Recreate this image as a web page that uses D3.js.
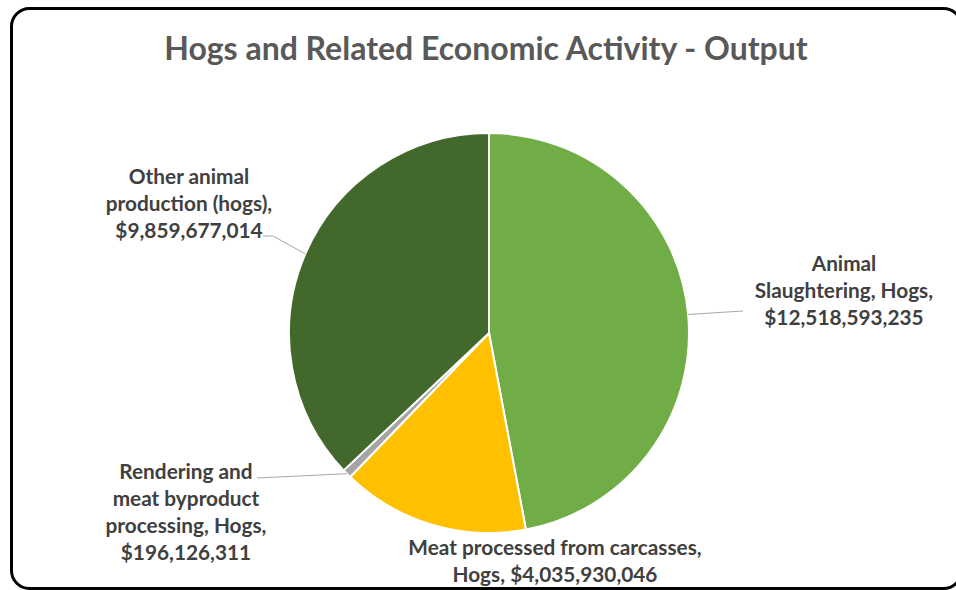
<!DOCTYPE html>
<html>
<head>
<meta charset="utf-8">
<script src="https://cdn.jsdelivr.net/npm/d3@7"></script>
<style>
  html, body { margin: 0; padding: 0; background: #fff; }
  svg { display: block; }
  text { font-family: Lato, "Open Sans", sans-serif; font-weight: bold; }
</style>
</head>
<body>
<svg id="chart" width="956" height="590"></svg>
<script>
// Output by activity, in drawing order (clockwise from 12 o'clock)
const categories = [
  "Animal Slaughtering, Hogs",
  "Meat processed from carcasses, Hogs",
  "Rendering and meat byproduct processing, Hogs",
  "Other animal production (hogs)"
];
const values = [12518593235, 4035930046, 196126311, 9859677014];
const colors = ["#70AD47", "#FFC000", "#A5A5A5", "#43682B"];
// Label text lines; {v} is replaced with the formatted value
const labelLines = [
  ["Animal", "Slaughtering, Hogs,", "{v}"],
  ["Meat processed from carcasses,", "Hogs, {v}"],
  ["Rendering and", "meat byproduct", "processing, Hogs,", "{v}"],
  ["Other animal", "production (hogs),", "{v}"]
];
const title = "Hogs and Related Economic Activity - Output";

// Layout
const W = 956, H = 590;
const cx = 489, cy = 333, R = 200;
const lineH = 27;
// label block centre x / first-line y, and leader-line bend points
const labelLayout = [
  { x: 844, y: 264, leader: [[743, 311]] },
  { x: 555, y: 548, leader: null },
  { x: 186, y: 472, leader: [[257, 478]] },
  { x: 189, y: 177, leader: [[273, 236], [263, 236]] }
];

const fmt = d3.format("$,");
const svg = d3.select("#chart");

// chart frame
svg.append("rect")
  .attr("x", 11.5).attr("y", 8.5)
  .attr("width", 950).attr("height", 580)
  .attr("rx", 18).attr("ry", 18)
  .attr("fill", "#fff")
  .attr("stroke", "#000")
  .attr("stroke-width", 3);

svg.append("text")
  .attr("x", 486).attr("y", 60)
  .attr("text-anchor", "middle")
  .attr("fill", "#595959")
  .attr("font-size", 32)
  .text(title);

const data = categories.map((c, i) => ({ name: c, value: values[i], i }));
const pie = d3.pie().value(d => d.value).sort(null).startAngle(0);
const arcs = pie(data);
const arc = d3.arc().innerRadius(0).outerRadius(R);

const g = svg.append("g").attr("transform", `translate(${cx},${cy})`);
g.selectAll("path.slice")
  .data(arcs)
  .join("path")
  .attr("class", "slice")
  .attr("d", arc)
  .attr("fill", d => colors[d.data.i])
  .attr("stroke", "#fff")
  .attr("stroke-width", 2)
  .attr("stroke-linejoin", "round");

// leader lines from slice edge mid-angle to label
const line = d3.line();
arcs.forEach(a => {
  const lay = labelLayout[a.data.i];
  if (!lay.leader) return;
  const mid = (a.startAngle + a.endAngle) / 2;
  const p0 = [cx + R * Math.sin(mid), cy - R * Math.cos(mid)];
  svg.append("path")
    .attr("d", line([p0, ...lay.leader]))
    .attr("fill", "none")
    .attr("stroke", "#A6A6A6")
    .attr("stroke-width", 1);
});

// data labels
arcs.forEach(a => {
  const i = a.data.i;
  const lay = labelLayout[i];
  const t = svg.append("text")
    .attr("text-anchor", "middle")
    .attr("fill", "#404040")
    .attr("font-size", 20.8);
  labelLines[i].forEach((s, k) => {
    t.append("tspan")
      .attr("x", lay.x)
      .attr("y", lay.y + k * lineH)
      .attr("dy", "0.35em")
      .text(s.replace("{v}", fmt(a.data.value)));
  });
});
</script>
</body>
</html>
